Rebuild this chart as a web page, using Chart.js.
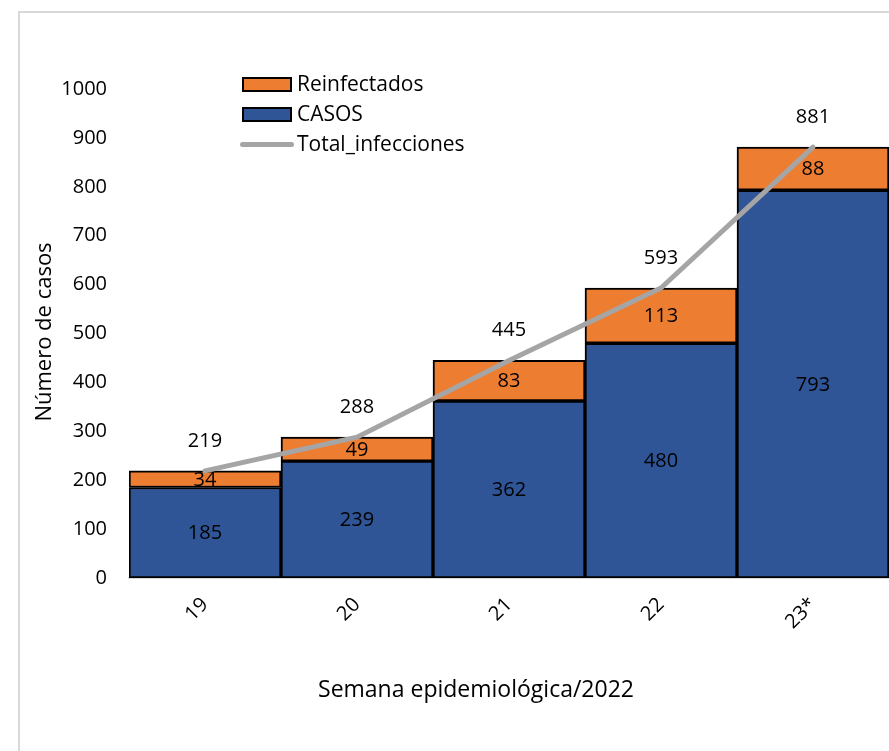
<!DOCTYPE html>
<html lang="es">
<head>
<meta charset="utf-8">
<title>Casos por semana epidemiológica</title>
<script src="https://cdn.jsdelivr.net/npm/chart.js@4.4.1/dist/chart.umd.min.js"></script>
<style>
  html, body { margin: 0; padding: 0; background: #fff; overflow: hidden; }
  body { width: 889px; height: 751px; position: relative; font-family: "Open Sans", "Noto Sans", sans-serif; }
  #frame { position: absolute; left: 18px; top: 11px; width: 900px; height: 800px; border: 2px solid #d9d9d9; box-sizing: border-box; }
  #wrap { position: absolute; left: 0; top: 0; width: 889px; height: 751px; }
  .leg { position: absolute; font-size: 21px; color: #000; line-height: 24px; white-space: nowrap; }
  .leg .box { position: absolute; left: 0; top: 4px; width: 50px; height: 15px; border: 2px solid #000; box-sizing: border-box; }
  .leg .ln { position: absolute; left: -2px; top: 9px; width: 54px; height: 5px; border-radius: 3px; background: #a5a5a5; }
  .leg span.t { position: absolute; left: 55px; top: -2px; }
  #xtitle { position: absolute; left: 0; width: 952px; top: 672px; text-align: center; font-size: 23px; }
  #ytitle { position: absolute; left: -78px; top: 317px; width: 240px; height: 30px; line-height: 30px;
            text-align: center; font-size: 22px; white-space: nowrap; transform: rotate(-90deg); }
</style>
</head>
<body>
<div id="frame"></div>
<div id="wrap"><canvas id="chart" width="889" height="751"></canvas></div>

<div class="leg" style="left:242px; top:73px;"><div class="box" style="background:#ED7D31"></div><span class="t">Reinfectados</span></div>
<div class="leg" style="left:242px; top:103px;"><div class="box" style="background:#2F5597"></div><span class="t">CASOS</span></div>
<div class="leg" style="left:242px; top:133px;"><div class="ln"></div><span class="t">Total_infecciones</span></div>
<div id="xtitle">Semana epidemiológica/2022</div>
<div id="ytitle">Número de casos</div>

<script>
const semanas = ['19', '20', '21', '22', '23*']
const casos = [185, 239, 362, 480, 793]
const reinfectados = [34, 49, 83, 113, 88]
const totalInfecciones = [219, 288, 445, 593, 881]
const yTicks = [0, 100, 200, 300, 400, 500, 600, 700, 800, 900, 1000]

const FONT = '"Open Sans", "Noto Sans", sans-serif'

// etiquetas de valor: centradas en cada tramo de barra, y encima de la línea
const valueLabels = {
  id: 'valueLabels',
  afterDatasetsDraw(chart) {
    const ctx = chart.ctx
    ctx.save()
    ctx.font = '20px ' + FONT
    ctx.fillStyle = '#000'
    ctx.textAlign = 'center'
    ctx.textBaseline = 'middle'
    chart.data.datasets.forEach((ds, i) => {
      const meta = chart.getDatasetMeta(i)
      meta.data.forEach((el, j) => {
        const p = el.getProps(['x', 'y', 'base'], true)
        if (ds.type === 'line') {
          ctx.fillText(String(ds.data[j]), p.x, p.y - 30)
        } else {
          ctx.fillText(String(ds.data[j]), p.x, (p.y + p.base) / 2 + 1)
        }
      })
    })
    ctx.restore()
  }
}

new Chart(document.getElementById('chart'), {
  data: {
    labels: semanas,
    datasets: [
      {
        type: 'line',
        label: 'Total_infecciones',
        data: totalInfecciones,
        borderColor: '#A5A5A5',
        borderWidth: 5,
        borderCapStyle: 'round',
        pointRadius: 0,
        tension: 0,
        stack: 'total',
        order: 0
      },
      {
        type: 'bar',
        label: 'CASOS',
        data: casos,
        backgroundColor: '#2F5597',
        borderColor: '#000',
        borderWidth: 2,
        borderSkipped: false,
        barPercentage: 1,
        categoryPercentage: 1,
        stack: 'barras',
        order: 1
      },
      {
        type: 'bar',
        label: 'Reinfectados',
        data: reinfectados,
        backgroundColor: '#ED7D31',
        borderColor: '#000',
        borderWidth: 2,
        borderSkipped: false,
        barPercentage: 1,
        categoryPercentage: 1,
        stack: 'barras',
        order: 1
      }
    ]
  },
  options: {
    responsive: false,
    animation: false,
    layout: { padding: { top: 89, right: 0, bottom: 0, left: 20 } },
    plugins: {
      legend: { display: false },
      tooltip: { enabled: false }
    },
    scales: {
      x: {
        stacked: true,
        grid: { display: false, drawTicks: false },
        border: { display: true, color: '#d9d9d9', width: 2 },
        ticks: {
          color: '#000',
          font: { family: FONT, size: 20 },
          minRotation: 45,
          maxRotation: 45,
          padding: 15
        },
        afterFit(scale) { scale.height = 751 - 578 }
      },
      y: {
        stacked: true,
        min: 0,
        max: 1000,
        grid: { display: false, drawTicks: false },
        border: { display: false },
        afterBuildTicks(scale) { scale.ticks = yTicks.map(v => ({ value: v })) },
        ticks: {
          color: '#000',
          font: { family: FONT, size: 20 },
          padding: 22,
          callback: v => String(v)
        },
        afterFit(scale) { scale.width = 129 - 20 }
      }
    }
  },
  plugins: [valueLabels]
})
</script>
</body>
</html>
